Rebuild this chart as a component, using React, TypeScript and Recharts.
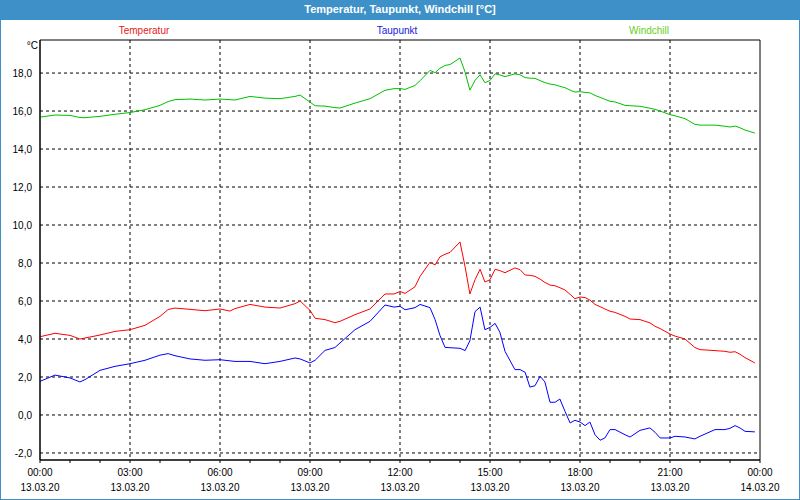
import { LineChart, Line, XAxis, YAxis, CartesianGrid, ReferenceArea } from 'recharts'

// hours since 13.03.20 00:00
const times = [
  0, 0.5, 1, 1.33, 1.5, 2, 2.5, 3, 3.5, 4,
  4.27, 4.5, 5, 5.5, 6, 6.33, 6.5, 7, 7.5, 8,
  8.5, 8.67, 9, 9.17, 9.5, 9.83, 10, 10.5, 11, 11.5,
  11.8, 12, 12.17, 12.5, 12.67, 13, 13.17, 13.33, 13.5, 13.67,
  14, 14.17, 14.33, 14.5, 14.67, 14.83, 15, 15.17, 15.33, 15.5,
  15.83, 16, 16.17, 16.33, 16.5, 16.67, 16.83, 17, 17.17, 17.33,
  17.5, 17.67, 17.83, 18, 18.17, 18.33, 18.5, 18.67, 18.83, 19,
  19.17, 19.5, 19.67, 20, 20.33, 20.5, 20.67, 21, 21.17, 21.5,
  21.83, 22, 22.5, 22.83, 23, 23.17, 23.33, 23.5, 23.83,
]

const temperatur = [
  4.12, 4.3, 4.19, 4.0, 4.05, 4.21, 4.4, 4.49, 4.72, 5.19,
  5.55, 5.63, 5.56, 5.49, 5.58, 5.47, 5.6, 5.82, 5.68, 5.63,
  5.86, 6.0, 5.51, 5.09, 5.02, 4.86, 4.93, 5.28, 5.58, 6.37,
  6.37, 6.5, 6.4, 6.75, 7.3, 8.04, 7.9, 8.32, 8.46, 8.56,
  9.11, 7.8, 6.37, 7.12, 7.67, 7.0, 7.12, 7.67, 7.6, 7.49,
  7.74, 7.65, 7.37, 7.35, 7.3, 7.15, 6.98, 6.84, 6.8, 6.7,
  6.58, 6.35, 6.12, 6.21, 6.18, 6.05, 5.82, 5.7, 5.58, 5.46,
  5.4, 5.19, 5.05, 5.02, 4.85, 4.67, 4.55, 4.26, 4.15, 4.0,
  3.55, 3.44, 3.39, 3.35, 3.3, 3.33, 3.2, 3.02, 2.74,
]

const taupunkt = [
  1.77, 2.1, 1.95, 1.74, 1.86, 2.35, 2.56, 2.7, 2.88, 3.15,
  3.23, 3.12, 2.95, 2.88, 2.91, 2.85, 2.82, 2.82, 2.7, 2.82,
  3.0, 2.95, 2.74, 2.88, 3.4, 3.55, 3.79, 4.49, 4.93, 5.79,
  5.68, 5.72, 5.54, 5.65, 5.82, 5.65, 5.02, 4.2, 3.56, 3.54,
  3.51, 3.39, 3.91, 5.44, 5.68, 4.49, 4.61, 4.82, 4.35, 3.35,
  2.39, 2.39, 2.25, 1.47, 1.54, 2.04, 1.74, 0.67, 0.67, 0.84,
  0.19, -0.42, -0.28, -0.37, -0.56, -0.37, -1.04, -1.33, -1.21, -0.77,
  -0.77, -1.04, -1.16, -0.81, -0.68, -0.91, -1.21, -1.21, -1.12, -1.16,
  -1.26, -1.12, -0.77, -0.77, -0.7, -0.56, -0.68, -0.86, -0.89,
]

const windchill = [
  15.68, 15.79, 15.77, 15.66, 15.65, 15.72, 15.83, 15.92, 16.07, 16.3,
  16.5, 16.6, 16.63, 16.58, 16.63, 16.6, 16.58, 16.77, 16.68, 16.65,
  16.77, 16.84, 16.47, 16.28, 16.26, 16.18, 16.16, 16.42, 16.65, 17.09,
  17.18, 17.18, 17.14, 17.35, 17.6, 18.14, 18.02, 18.25, 18.4, 18.45,
  18.79, 18.05, 17.1, 17.61, 17.91, 17.49, 17.61, 17.96, 17.9, 17.81,
  17.96, 17.91, 17.76, 17.73, 17.72, 17.6, 17.5, 17.42, 17.38, 17.3,
  17.23, 17.1, 17.0, 17.02, 16.98, 16.96, 16.82, 16.72, 16.62, 16.51,
  16.48, 16.3, 16.28, 16.25, 16.15, 16.09, 16.0, 15.81, 15.75, 15.6,
  15.3, 15.26, 15.26, 15.2, 15.16, 15.21, 15.12, 15.0, 14.84,
]

const seriesNames = ['Temperatur', 'Taupunkt', 'Windchill']

const hourTicks = [
  0, 1, 2, 3, 4, 5, 6, 7, 8, 9, 10, 11, 12,
  13, 14, 15, 16, 17, 18, 19, 20, 21, 22, 23, 24,
]
const majorTicks = [0, 3, 6, 9, 12, 15, 18, 21, 24]
const timeLabels = ['00:00', '03:00', '06:00', '09:00', '12:00', '15:00', '18:00', '21:00', '00:00']
const dateLabels = [
  '13.03.20', '13.03.20', '13.03.20', '13.03.20', '13.03.20',
  '13.03.20', '13.03.20', '13.03.20', '14.03.20',
]
const yTicks = [-2, 0, 2, 4, 6, 8, 10, 12, 14, 16, 18]
const yDomain = [-2.37, 19.74]

const rows = times.map((t, i) => ({
  t,
  temperatur: temperatur[i],
  taupunkt: taupunkt[i],
  windchill: windchill[i],
}))

const FONT = '"Liberation Sans", Arial, sans-serif'
const FRAME = '#3d91c8'

function TimeTick({ x, y, payload }: { x?: number; y?: number; payload?: { value: number } }) {
  const i = majorTicks.indexOf(payload?.value ?? -1)
  if (i < 0) return <g />
  return (
    <g>
      <text x={x} y={(y ?? 0) + 11} textAnchor="middle" fontSize={10} fontFamily={FONT} fill="#000">
        {timeLabels[i]}
      </text>
      <text x={x} y={(y ?? 0) + 26} textAnchor="middle" fontSize={10} fontFamily={FONT} fill="#000">
        {dateLabels[i]}
      </text>
    </g>
  )
}

// legend names spread across the top like the original
const legendCenters = [144, 397, 649]
const legendColors = ['#e81818', '#1818e0', '#66d020']

export default function App() {
  return (
    <div style={{ position: 'absolute', left: 0, top: 0, width: 800, height: 500, background: '#fff' }}>
      <LineChart
        width={800}
        height={500}
        data={rows}
        margin={{ top: 40, right: 40, bottom: 0, left: 8 }}
        style={{ position: 'absolute', left: 0, top: 0 }}
      >
        <CartesianGrid
          stroke="#000"
          strokeDasharray="3 3"
          horizontalValues={yTicks}
          verticalValues={[3, 6, 9, 12, 15, 18, 21]}
        />
        <XAxis
          dataKey="t"
          type="number"
          domain={[0, 24]}
          ticks={hourTicks}
          interval={0}
          height={40}
          tickSize={3}
          tickMargin={2}
          axisLine={{ stroke: '#000' }}
          tickLine={{ stroke: '#000' }}
          tick={<TimeTick />}
        />
        <YAxis
          type="number"
          domain={yDomain}
          allowDataOverflow
          ticks={yTicks}
          interval={0}
          width={32}
          tickLine={false}
          axisLine={{ stroke: '#000' }}
          tick={{ fill: '#000', fontSize: 10, fontFamily: FONT }}
          tickFormatter={(v: number) => v.toFixed(1).replace('.', ',')}
          label={{ value: '°C', position: 'insideTopRight', offset: 2, fill: '#000', fontSize: 10, fontFamily: FONT }}
        />
        <ReferenceArea x1={0} x2={24} y1={yDomain[0]} y2={yDomain[1]} fill="none" stroke="#000" strokeWidth={1} />
        <Line dataKey="temperatur" name="Temperatur" type="linear" stroke="#ff0000" strokeWidth={1} dot={false} isAnimationActive={false} />
        <Line dataKey="taupunkt" name="Taupunkt" type="linear" stroke="#0000ff" strokeWidth={1} dot={false} isAnimationActive={false} />
        <Line dataKey="windchill" name="Windchill" type="linear" stroke="#00c000" strokeWidth={1} dot={false} isAnimationActive={false} />
      </LineChart>

      {/* series names, spread across the top */}
      {seriesNames.map((name, i) => (
        <span
          key={name}
          style={{
            position: 'absolute',
            top: 24,
            left: legendCenters[i],
            transform: 'translateX(-50%)',
            color: legendColors[i],
            fontFamily: FONT,
            fontSize: 10,
            lineHeight: '13px',
            whiteSpace: 'nowrap',
          }}
        >
          {name}
        </span>
      ))}

      <div
        style={{
          position: 'absolute',
          left: 0,
          top: 0,
          width: 800,
          height: 20,
          background: FRAME,
          color: '#fff',
          fontFamily: FONT,
          fontWeight: 'bold',
          fontSize: 11,
          lineHeight: '18px',
          textAlign: 'center',
        }}
      >
        Temperatur, Taupunkt, Windchill [°C]
      </div>
      <div
        style={{
          position: 'absolute',
          inset: 0,
          border: `1px solid ${FRAME}`,
          boxSizing: 'border-box',
          pointerEvents: 'none',
        }}
      />
    </div>
  )
}
